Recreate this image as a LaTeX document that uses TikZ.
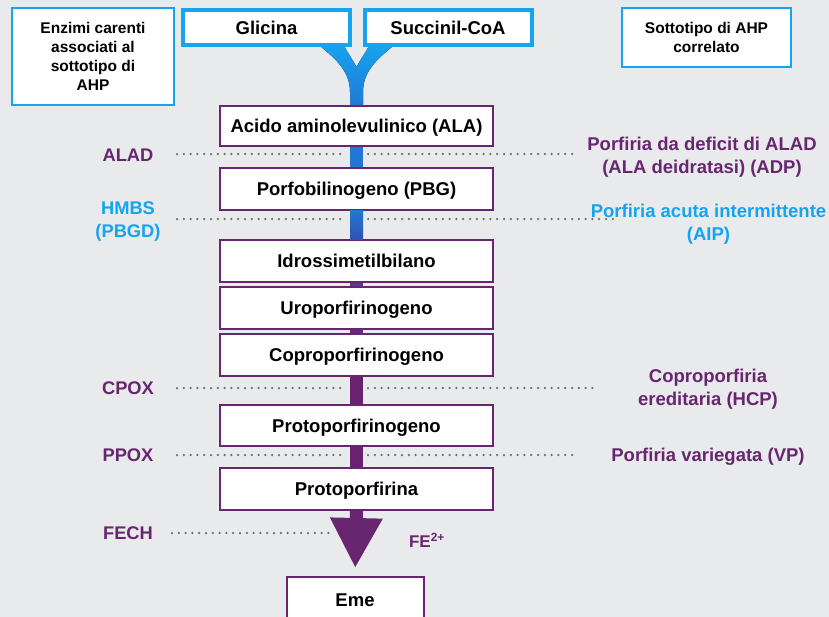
\documentclass[tikz,border=0pt]{standalone}
\usepackage{fontspec}
\setmainfont{Liberation Sans}
\usetikzlibrary{arrows.meta,calc}
\definecolor{bg}{RGB}{233,234,236}
\definecolor{cyanc}{RGB}{22,163,240}
\definecolor{purp}{RGB}{104,38,112}
\definecolor{dotc}{RGB}{108,108,112}
\definecolor{barA}{RGB}{32,120,212}
\definecolor{barB}{RGB}{50,82,176}
\definecolor{barC}{RGB}{88,58,146}
\definecolor{barD}{RGB}{100,42,124}
\definecolor{barE}{RGB}{104,34,112}
\tikzset{
  mainbox/.style={draw=purp, line width=2pt, fill=white, minimum width=273pt, inner sep=0pt,
    text height=13.3pt, text depth=0pt, font=\fontsize{18.5}{22}\selectfont\bfseries},
  srcbox/.style={draw=cyanc, line width=4pt, fill=white, minimum width=167pt, minimum height=35pt,
    inner sep=0pt, text height=13.3pt, text depth=0pt, font=\fontsize{18.5}{22}\selectfont\bfseries},
  legbox/.style={draw=cyanc, line width=1.6pt, fill=white, inner sep=0pt, align=center,
    font=\fontsize{15.5}{19}\selectfont\bfseries},
  enzlab/.style={font=\fontsize{18.3}{23}\selectfont\bfseries, align=center, inner sep=0pt},
  dislab/.style={font=\fontsize{18.5}{23}\selectfont\bfseries, align=center, inner sep=0pt},
  dotline/.style={draw=dotc, line width=2.5pt, line cap=round, dash pattern=on 0pt off 6.8pt},
  bar/.style={line width=13pt}
}
\begin{document}
\begin{tikzpicture}[x=1pt,y=-1pt]
\useasboundingbox (0,0) rectangle (829,616);
\clip (0,0) rectangle (829,616);
\fill[bg] (-5,-5) rectangle (835,625);

% legend boxes
\node[legbox, minimum width=162pt, minimum height=97pt] (leg1) at (93,56.5)
  {Enzimi carenti\\associati al\\sottotipo di\\AHP};
\node[legbox, minimum width=169pt, minimum height=59pt] (leg2) at (706.5,37.5)
  {Sottotipo di AHP\\correlato};

% funnel
\fill[top color=cyanc, bottom color=barA]
  (320,46) .. controls (337,60) and (350,72) .. (350,92) -- (350,106) -- (363,106) -- (363,92)
  .. controls (363,72) and (376,60) .. (393,46) -- (369,46)
  .. controls (364,55) and (359,62) .. (356.5,67)
  .. controls (354,62) and (349,55) .. (344,46) -- cycle;

% source boxes
\node[srcbox] (gli) at (266.5,27.5) {Glicina};
\node[srcbox] (suc) at (448,27.5) {Succinil-CoA};

% pathway boxes
\node[mainbox, minimum height=40pt] (ala) at (356.5,125.5) {Acido aminolevulinico (ALA)};
\node[mainbox, minimum height=42pt] (pbg) at (356.5,189) {Porfobilinogeno (PBG)};
\node[mainbox, minimum height=42pt] (idr) at (356.5,260.5) {Idrossimetilbilano};
\node[mainbox, minimum height=42pt] (uro) at (356.5,308) {Uroporfirinogeno};
\node[mainbox, minimum height=42pt] (cop) at (356.5,355) {Coproporfirinogeno};
\node[mainbox, minimum height=41pt] (ppg) at (356.5,425.5) {Protoporfirinogeno};
\node[mainbox, minimum height=42pt] (ppn) at (356.5,489) {Protoporfirina};
\node[mainbox, minimum width=137pt, minimum height=46pt] (eme) at (355,600) {Eme};

% bars between boxes
\draw[bar, barA] (ala.south) -- (pbg.north);
\draw[bar, top color=barA, bottom color=barB, draw=none]
  ($(pbg.south)+(-6.5,-1)$) rectangle ($(idr.north)+(6.5,1)$);
\draw[bar, barC] (idr.south) -- (uro.north);
\draw[bar, barD] (uro.south) -- (cop.north);
\draw[bar, barE] (cop.south) -- (ppg.north);
\draw[bar, barE] (ppg.south) -- (ppn.north);
\draw[bar, purp, -{Triangle[width=53pt,length=49pt,line width=0pt]}, shorten >=9pt] (ppn.south) -- (eme.north);

% enzyme labels
\node[enzlab, text=purp] (alad) at (128,155) {ALAD};
\node[enzlab, text=cyanc] (hmbs) at (128,221.5) {HMBS\\(PBGD)};
\node[enzlab, text=purp] (cpox) at (128,388) {CPOX};
\node[enzlab, text=purp] (ppox) at (128,455) {PPOX};
\node[enzlab, text=purp] (fech) at (128,533) {FECH};

% disease labels
\node[dislab, text=purp] (adp) at (702,157.5) {Porfiria da deficit di ALAD\\(ALA deidratasi) (ADP)};
\node[dislab, text=cyanc] (aip) at (708.5,224.5) {Porfiria acuta intermittente\\(AIP)};
\node[dislab, text=purp] (hcp) at (708,389.5) {Coproporfiria\\ereditaria (HCP)};
\node[dislab, text=purp] (vp) at (708,457) {Porfiria variegata (VP)};
\node[font=\fontsize{17}{20}\selectfont\bfseries, text=purp, inner sep=0pt] (fe) at (427,540) {FE\textsuperscript{2+}};

% dotted line endpoints
\coordinate (a1) at (177,154); \coordinate (a2) at (345,154);
\coordinate (a3) at (368,154); \coordinate (a4) at (578,154);
\coordinate (h1) at (177,219); \coordinate (h2) at (345,219);
\coordinate (h3) at (368,219); \coordinate (h4) at (617,219);
\coordinate (c1) at (177,388); \coordinate (c2) at (345,388);
\coordinate (c3) at (368,388); \coordinate (c4) at (597,388);
\coordinate (p1) at (177,455); \coordinate (p2) at (345,455);
\coordinate (p3) at (368,455); \coordinate (p4) at (578,455);
\coordinate (f1) at (172,533); \coordinate (f2) at (335,533);

\draw[dotline] (a1) -- (a2); \draw[dotline] (a3) -- (a4);
\draw[dotline] (h1) -- (h2); \draw[dotline] (h3) -- (h4);
\draw[dotline] (c1) -- (c2); \draw[dotline] (c3) -- (c4);
\draw[dotline] (p1) -- (p2); \draw[dotline] (p3) -- (p4);
\draw[dotline] (f1) -- (f2);
\end{tikzpicture}
\end{document}
